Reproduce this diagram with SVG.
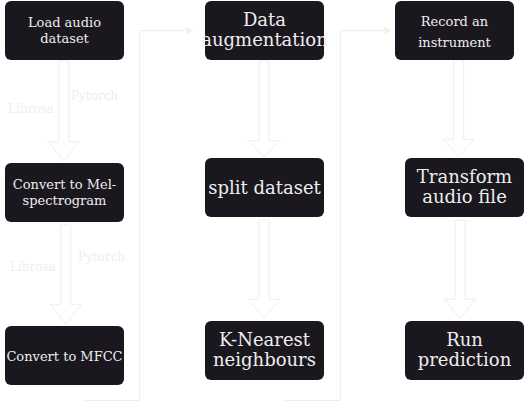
<svg xmlns="http://www.w3.org/2000/svg" width="525" height="411" viewBox="0 0 525 411">
<style>
.box{fill:#1a171f;}
.t{font-family:"DejaVu Serif","Liberation Serif",serif;fill:#eeeeee;text-anchor:middle;}
.s13{font-size:13px;}
.s18{font-size:18px;}
.lbl{font-family:"DejaVu Serif","Liberation Serif",serif;font-size:12px;fill:#eeeeee;}
.blk{fill:none;stroke:#eeeeee;stroke-width:1;}
.con{fill:none;stroke:#eeeeee;stroke-width:1;}
</style>
<defs>
<marker id="ah" markerWidth="10" markerHeight="10" refX="8" refY="4" orient="auto" markerUnits="userSpaceOnUse">
<path d="M0,0 L8,4 L0,8 L2,4 z" fill="#eeeeee"/>
</marker>
</defs>
<rect width="525" height="411" fill="#ffffff"/>
<g id="connectors">
<polygon class="blk" points="58.7,61 68.7,61 68.7,141.7 79,141.7 63.7,161 48.5,141.7 58.7,141.7"/>
<polygon class="blk" points="60.7,225 70.7,225 70.7,304.7 81,304.7 65.7,324 50.5,304.7 60.7,304.7"/>
<polygon class="blk" points="259,61 269,61 269,140.7 279.5,140.7 264,157 248.5,140.7 259,140.7"/>
<polygon class="blk" points="259,219.3 269,219.3 269,299.3 279.5,299.3 264,318.5 248.5,299.3 259,299.3"/>
<polygon class="blk" points="453.7,60 463.7,60 463.7,139.3 474,139.3 458.7,156.7 443.5,139.3 453.7,139.3"/>
<polygon class="blk" points="455,220 465,220 465,299.3 475.5,299.3 460,318.7 444.5,299.3 455,299.3"/>
<path class="con" d="M85,400.5 H139.5 V30.5 H193" marker-end="url(#ah)"/>
<path class="con" d="M285,400.5 H340.5 V30.5 H391.5" marker-end="url(#ah)"/>
<text class="lbl" x="8" y="113">Librosa</text>
<text class="lbl" x="71" y="100">Pytorch</text>
<text class="lbl" x="10" y="271">Librosa</text>
<text class="lbl" x="78" y="261">Pytorch</text>
</g>
<g id="load">
<rect class="box" x="5" y="1" width="119" height="59" rx="6"/>
<text class="t s13" x="64.5" y="27.2">Load audio</text>
<text class="t s13" x="64.5" y="42.8">dataset</text>
</g>
<g id="mel">
<rect class="box" x="5" y="163" width="119" height="59" rx="6"/>
<text class="t s13" x="64.5" y="189">Convert to Mel-</text>
<text class="t s13" x="64.5" y="204.5">spectrogram</text>
</g>
<g id="mfcc">
<rect class="box" x="5" y="326" width="119" height="59" rx="6"/>
<text class="t s13" x="64.5" y="361">Convert to MFCC</text>
</g>
<g id="aug">
<rect class="box" x="205" y="1" width="119" height="59" rx="6"/>
<text class="t s18" x="264.5" y="26.3">Data</text>
<text class="t s18" x="264.5" y="46.3">augmentation</text>
</g>
<g id="split">
<rect class="box" x="205" y="158" width="119" height="59" rx="6"/>
<text class="t s18" x="264.5" y="194">split dataset</text>
</g>
<g id="knn">
<rect class="box" x="205" y="321" width="119" height="59" rx="6"/>
<text class="t s18" x="264.5" y="345.6">K-Nearest</text>
<text class="t s18" x="264.5" y="366.3">neighbours</text>
</g>
<g id="record">
<rect class="box" x="395" y="1" width="119" height="59" rx="6"/>
<text class="t s13" x="454.5" y="26.2">Record an</text>
<text class="t s13" x="454.5" y="47.2">instrument</text>
</g>
<g id="transform">
<rect class="box" x="405" y="158" width="119" height="59" rx="6"/>
<text class="t s18" x="464.5" y="183">Transform</text>
<text class="t s18" x="464.5" y="203">audio file</text>
</g>
<g id="predict">
<rect class="box" x="405" y="321" width="119" height="59" rx="6"/>
<text class="t s18" x="464.5" y="345.6">Run</text>
<text class="t s18" x="464.5" y="366.3">prediction</text>
</g>
</svg>
